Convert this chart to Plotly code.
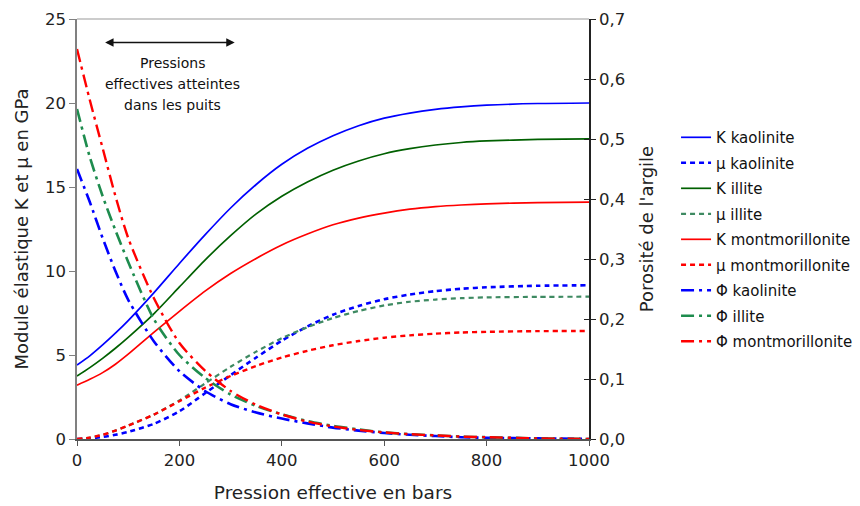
import plotly.graph_objects as go

P = [0, 25, 50, 75, 100, 150, 200, 250, 300, 350, 400, 450, 500, 550, 600, 650, 700, 750, 800, 900, 1000]

K_kaol = [4.4, 4.95, 5.6, 6.3, 7.05, 8.7, 10.45, 12.15, 13.75, 15.15, 16.35, 17.3, 18.05, 18.65, 19.1, 19.4, 19.62, 19.77, 19.87, 19.97, 20.0]
mu_kaol = [0, 0.04, 0.12, 0.25, 0.42, 0.9, 1.65, 2.72, 3.8, 4.85, 5.85, 6.7, 7.4, 7.92, 8.32, 8.6, 8.8, 8.94, 9.03, 9.12, 9.15]
K_ill = [3.75, 4.25, 4.8, 5.4, 6.05, 7.45, 9.05, 10.65, 12.1, 13.4, 14.45, 15.3, 16.0, 16.55, 16.98, 17.28, 17.5, 17.65, 17.74, 17.83, 17.87]
mu_ill = [0, 0.08, 0.25, 0.5, 0.8, 1.45, 2.3, 3.3, 4.3, 5.2, 6.0, 6.65, 7.2, 7.62, 7.95, 8.17, 8.3, 8.38, 8.43, 8.46, 8.47]
K_mont = [3.2, 3.55, 3.95, 4.45, 5.05, 6.35, 7.6, 8.8, 9.85, 10.75, 11.55, 12.2, 12.75, 13.15, 13.45, 13.68, 13.83, 13.93, 14.0, 14.07, 14.1]
mu_mont = [0, 0.08, 0.25, 0.5, 0.8, 1.45, 2.25, 3.05, 3.75, 4.35, 4.85, 5.25, 5.58, 5.83, 6.03, 6.17, 6.27, 6.34, 6.38, 6.42, 6.43]
phi_kaol = [0.45, 0.395, 0.335, 0.28, 0.232, 0.163, 0.113, 0.080, 0.058, 0.044, 0.034, 0.026, 0.019, 0.014, 0.010, 0.007, 0.005, 0.003, 0.002, 0.001, 0.0]
phi_ill = [0.55, 0.47, 0.405, 0.348, 0.295, 0.20, 0.14, 0.102, 0.074, 0.055, 0.041, 0.030, 0.022, 0.016, 0.011, 0.008, 0.006, 0.004, 0.003, 0.001, 0.0]
phi_mont = [0.65, 0.565, 0.485, 0.405, 0.335, 0.235, 0.16, 0.114, 0.080, 0.057, 0.041, 0.029, 0.021, 0.015, 0.011, 0.008, 0.006, 0.004, 0.003, 0.001, 0.0]

BLUE = "#0000FF"
RED = "#FF0000"
GREEN_K = "#006000"
GREEN_MU = "#3E8A62"
GREEN_PHI = "#1E8C4E"

DOT = "5px,4px"
DASHDOT = "13px,5px,3px,5px"

series = [
    ("K kaolinite", K_kaol, BLUE, "solid", 1.7, "y"),
    ("µ kaolinite", mu_kaol, BLUE, DOT, 2.6, "y"),
    ("K illite", K_ill, GREEN_K, "solid", 1.7, "y"),
    ("µ illite", mu_ill, GREEN_MU, DOT, 2.2, "y"),
    ("K montmorillonite", K_mont, RED, "solid", 1.7, "y"),
    ("µ montmorillonite", mu_mont, RED, DOT, 2.4, "y"),
    ("Φ kaolinite", phi_kaol, BLUE, DASHDOT, 2.6, "y2"),
    ("Φ illite", phi_ill, GREEN_PHI, DASHDOT, 2.6, "y2"),
    ("Φ montmorillonite", phi_mont, RED, DASHDOT, 2.4, "y2"),
]

fig = go.Figure()
for i, (name, vals, col, dash, w, ax) in enumerate(series):
    fig.add_trace(go.Scatter(
        x=P, y=vals, name=name, mode="lines", yaxis=ax,
        line=dict(color=col, dash=dash, width=w, shape="spline", smoothing=0.7),
        legendgroup=f"g{i}",
    ))

FONT = "DejaVu Sans, Liberation Sans, Arial, sans-serif"

fig.update_layout(
    width=852, height=498,
    margin=dict(l=69, r=271, t=11, b=67, autoexpand=False),
    paper_bgcolor="white", plot_bgcolor="white",
    separators=", ",
    font=dict(family=FONT, size=16, color="#222222"),
    showlegend=True,
    legend=dict(x=1.170, y=0.757, xanchor="left", yanchor="top",
                font=dict(size=15, color="#111111"),
                traceorder="grouped", tracegroupgap=3,
                bgcolor="rgba(0,0,0,0)"),
    xaxis=dict(range=[0, 1000], dtick=200, showgrid=False, zeroline=False,
               showline=True, linecolor="#555555", linewidth=1.5,
               ticks="outside", ticklen=5, tickcolor="#555555",
               tickfont=dict(size=16.5), automargin=False,
               title=dict(text="Pression effective en bars", font=dict(size=18.5), standoff=18)),
    yaxis=dict(range=[0, 25], dtick=5, showgrid=False, zeroline=False,
               showline=True, linecolor="#808080", linewidth=1.5,
               ticks="outside", ticklen=6, tickcolor="#808080",
               tickfont=dict(size=16.5), automargin=False,
               title=dict(text="Module élastique K et µ en GPa", font=dict(size=18), standoff=12)),
    yaxis2=dict(range=[0, 0.7], dtick=0.1, tickformat=".1f", overlaying="y", side="right",
                showgrid=False, zeroline=False,
                showline=True, linecolor="#222222", linewidth=1.5,
                ticks="outside", ticklen=5, tickcolor="#222222",
                tickfont=dict(size=16.5), automargin=False,
                title=dict(text="Porosité de l'argile", font=dict(size=18), standoff=16)),
    yaxis3=dict(range=[0, 0.7], dtick=0.1, overlaying="y", side="right",
                showgrid=False, zeroline=False, showline=False,
                ticks="inside", ticklen=5, tickcolor="#222222",
                showticklabels=False, automargin=False),
)

# invisible trace to activate the inside-tick axis
fig.add_trace(go.Scatter(x=[None], y=[None], yaxis="y3", showlegend=False, hoverinfo="skip"))

# top border line
fig.add_shape(type="line", xref="paper", yref="paper", x0=0, x1=1, y0=1, y1=1,
              line=dict(color="#BBBBBB", width=1.5))

# double-headed arrow and annotation
fig.add_annotation(x=308, y=23.6, ax=52, ay=23.6, xref="x", yref="y", axref="x", ayref="y",
                   text="", showarrow=True, arrowhead=2, startarrowhead=2, arrowside="end+start",
                   arrowsize=1.3, startarrowsize=1.3, arrowwidth=1.3, arrowcolor="#111111")
ann_lines = [("Pressions", 22.4), ("effectives atteintes", 21.15), ("dans les puits", 19.9)]
for txt, yy in ann_lines:
    fig.add_annotation(x=187, y=yy, xref="x", yref="y", showarrow=False, text=txt,
                       font=dict(size=14, color="#111111"), align="center")

fig.write_html("out.html")
